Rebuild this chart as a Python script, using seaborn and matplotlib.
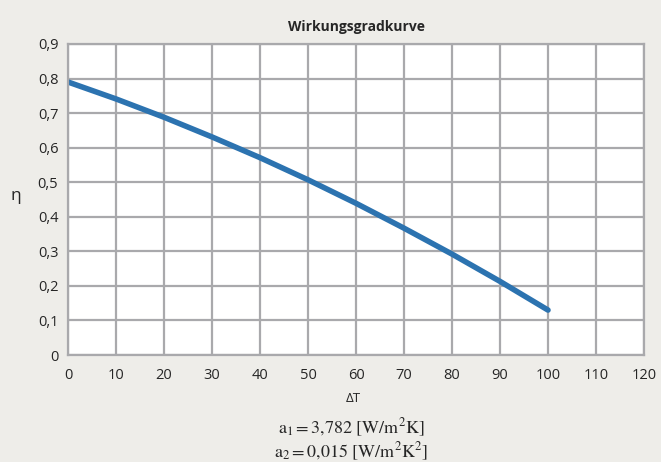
import pandas as pd
import matplotlib
matplotlib.use("Agg")
import matplotlib.pyplot as plt
import seaborn as sns

# Values
delta_t = [0, 10, 20, 30, 40, 50, 60, 70, 80, 90, 100]
eta = [0.790, 0.741, 0.688, 0.631, 0.571, 0.507, 0.439, 0.367, 0.292, 0.213, 0.130]
x_ticks = [0, 10, 20, 30, 40, 50, 60, 70, 80, 90, 100, 110, 120]
y_ticks = [0, 0.1, 0.2, 0.3, 0.4, 0.5, 0.6, 0.7, 0.8, 0.9]
y_labels = ["0", "0,1", "0,2", "0,3", "0,4", "0,5", "0,6", "0,7", "0,8", "0,9"]

df = pd.DataFrame({"dT": delta_t, "eta": eta})

sns.set_theme(style="whitegrid")
plt.rcParams["font.family"] = ["Open Sans", "DejaVu Sans"]
plt.rcParams["mathtext.fontset"] = "stix"

bg = "#EEEDE9"
grid_col = "#A9A9AC"
txt = "#262626"

fig = plt.figure(figsize=(6.61, 4.62), dpi=100, facecolor=bg)
ax = fig.add_axes([0.1029, 0.2316, 0.8714, 0.6732])
ax.set_facecolor("white")

sns.lineplot(data=df, x="dT", y="eta", ax=ax, color="#2C73B0", linewidth=4.0,
             solid_capstyle="round")

ax.set_xlim(0, 120)
ax.set_ylim(0, 0.9)
ax.set_xticks(x_ticks)
ax.set_xticklabels([str(v) for v in x_ticks])
ax.set_yticks(y_ticks)
ax.set_yticklabels(y_labels)
ax.grid(True, color=grid_col, linewidth=1.6)
for s in ax.spines.values():
    s.set_color(grid_col)
    s.set_linewidth(1.6)
ax.tick_params(axis="both", length=0, labelsize=10.5, colors=txt)
ax.tick_params(axis="x", pad=9)
ax.tick_params(axis="y", pad=7)
ax.set_axisbelow(True)
ax.set_xlabel("")
ax.set_ylabel("")

ax.set_title("Wirkungsgradkurve", fontsize=10, fontweight="bold", color=txt, pad=9)
fig.text(353 / 661, 1 - 398 / 462, "ΔT", ha="center", va="center", fontsize=9.5, color=txt)
fig.text(16 / 661, 1 - 196 / 462, "η", ha="center", va="center", fontsize=12.5,
         color=txt, rotation=0)

fig.text(351 / 661, 1 - 428 / 462, r"$\mathrm{a_{1} = 3{,}782\ [W/m^{2}K]}$", ha="center",
         va="center", fontsize=13, color=txt)
fig.text(351 / 661, 1 - 452 / 462, r"$\mathrm{a_{2} = 0{,}015\ [W/m^{2}K^{2}]}$", ha="center",
         va="center", fontsize=13, color=txt)

fig.savefig("out.png", dpi=100, facecolor=bg)
